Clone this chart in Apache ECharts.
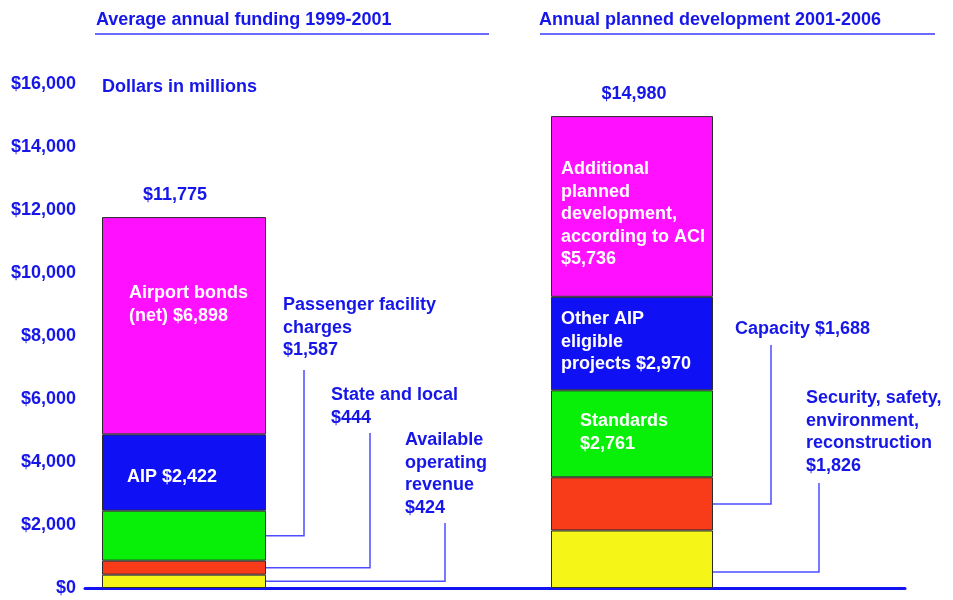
<!DOCTYPE html>
<html>
<head>
<meta charset="utf-8">
<script src="https://cdn.jsdelivr.net/npm/echarts@6/dist/echarts.min.js"></script>
<style>html,body{margin:0;background:#fff}#chart{width:953px;height:600px}</style>
</head>
<body>
<div id="chart"></div>
<script>
// panels (one bar each)
const panels = ['Average annual funding 1999-2001', 'Annual planned development 2001-2006']
const yMin = 0
const yMax = 16000
const yStep = 2000

// stack levels, bottom to top
const leftNames = ['Available operating revenue', 'State and local', 'Passenger facility charges', 'AIP', 'Airport bonds (net)']
const leftValues = [424, 444, 1587, 2422, 6898]
const rightNames = ['Security, safety, environment, reconstruction', 'Capacity', 'Standards', 'Other AIP eligible projects', 'Additional planned development, according to ACI']
const rightValues = [1826, 1688, 2761, 2970, 5736]
const totals = [11775, 14980]

// label wording (value appended)
const leftText = ['Available\noperating\nrevenue\n', 'State and local\n', 'Passenger facility\ncharges\n', 'AIP ', 'Airport bonds\n(net) ']
const rightText = ['Security, safety,\nenvironment,\nreconstruction\n', 'Capacity ', 'Standards\n', 'Other AIP\neligible\nprojects ', 'Additional\nplanned\ndevelopment,\naccording to ACI\n']

const colors = ['#f5f518', '#f83c1a', '#08f008', '#1010f5', '#ff10ff']
const blue = '#1616e8'
const lineBlue = '#4d4dff'
const font = '"Liberation Sans", Arial, sans-serif'
const money = (v) => '$' + v.toLocaleString('en-US')

// where each label sits; leader = [corner x, top y, anchor fraction of segment]
const layouts = [
  [
    { x: 405, y: 429, leader: [445, 523, 0.5] },
    { x: 331, y: 384, leader: [370, 433, 0.5] },
    { x: 283, y: 294, leader: [304, 370, 0.5] },
    { x: 127, y: 466, inside: true },
    { x: 129, y: 282, inside: true }
  ],
  [
    { x: 806, y: 387, leader: [819, 483, 0.28] },
    { x: 735, y: 318, leader: [771, 345, 0.5] },
    { x: 580, y: 410, inside: true },
    { x: 561, y: 308, inside: true },
    { x: 561, y: 158, inside: true }
  ]
]
const barWidths = [164, 162]
const totalOffsets = [[-9, 0], [2, 0]]

const chart = echarts.init(document.getElementById('chart'))
const values = [leftValues, rightValues]
const texts = [leftText, rightText]

const series = []
values.forEach((vals, g) => {
  vals.forEach((v, i) => {
    series.push({
      type: 'bar',
      name: (g ? rightNames : leftNames)[i],
      xAxisIndex: g,
      yAxisIndex: g,
      stack: 'panel' + g,
      barWidth: barWidths[g],
      data: [v],
      itemStyle: { color: colors[i], borderColor: '#2a2a2a', borderWidth: 1 },
      label: i === vals.length - 1 ? {
        show: true, position: 'top', distance: 13, offset: totalOffsets[g],
        formatter: () => money(totals[g]),
        color: blue, fontSize: 18, fontWeight: 'bold', fontFamily: font
      } : { show: false }
    })
  })
})

const hiddenY = { type: 'value', min: yMin, max: yMax, interval: yStep, show: false }
chart.setOption({
  animation: false,
  grid: [
    { left: 85, width: 198, top: 84, bottom: 12 },
    { left: 542, width: 180, top: 84, bottom: 12 },
    { left: 85, right: 48, top: 84, bottom: 12 }
  ],
  xAxis: [
    { type: 'category', gridIndex: 0, data: [panels[0]], show: false },
    { type: 'category', gridIndex: 1, data: [panels[1]], show: false },
    {
      type: 'category', gridIndex: 2, data: [''],
      axisLine: { lineStyle: { color: '#1414f0', width: 3 } },
      axisTick: { show: false }, axisLabel: { show: false }
    }
  ],
  yAxis: [
    {
      type: 'value', gridIndex: 0, min: yMin, max: yMax, interval: yStep,
      axisLine: { show: false }, axisTick: { show: false }, splitLine: { show: false },
      axisLabel: { formatter: money, color: blue, fontSize: 18, fontWeight: 'bold', fontFamily: font, margin: 9 }
    },
    Object.assign({ gridIndex: 1 }, hiddenY),
    Object.assign({ gridIndex: 2 }, hiddenY)
  ],
  series
})

// annotations
const graphic = []
const txt = (x, y, text, color, valign) => ({
  type: 'text', x, y, z: 100, silent: true,
  style: { text, fill: color, font: 'bold 18px ' + font, lineHeight: 22.5, verticalAlign: valign || 'top' }
})
graphic.push(txt(96, 20, panels[0], blue, 'middle'))
graphic.push(txt(539, 20, panels[1], blue, 'middle'))
graphic.push({ type: 'line', shape: { x1: 95, y1: 34, x2: 489, y2: 34 }, style: { stroke: '#3a3aff', lineWidth: 1.5 } })
graphic.push({ type: 'line', shape: { x1: 540, y1: 34, x2: 935, y2: 34 }, style: { stroke: '#3a3aff', lineWidth: 1.5 } })
graphic.push(txt(102, 87, 'Dollars in millions', blue, 'middle'))

values.forEach((vals, g) => {
  let base = 0
  vals.forEach((v, i) => {
    const lay = layouts[g][i]
    graphic.push(txt(lay.x, lay.y, texts[g][i] + money(v), lay.inside ? '#ffffff' : blue))
    if (lay.leader) {
      const p = chart.convertToPixel({ xAxisIndex: g, yAxisIndex: g }, [0, base + v * lay.leader[2]])
      const right = p[0] + barWidths[g] / 2
      graphic.push({
        type: 'polyline', silent: true, z: 100,
        shape: { points: [[right, p[1]], [lay.leader[0], p[1]], [lay.leader[0], lay.leader[1]]] },
        style: { stroke: lineBlue, lineWidth: 1.5, fill: null }
      })
    }
    base += v
  })
})
chart.setOption({ graphic })
</script>
</body>
</html>
